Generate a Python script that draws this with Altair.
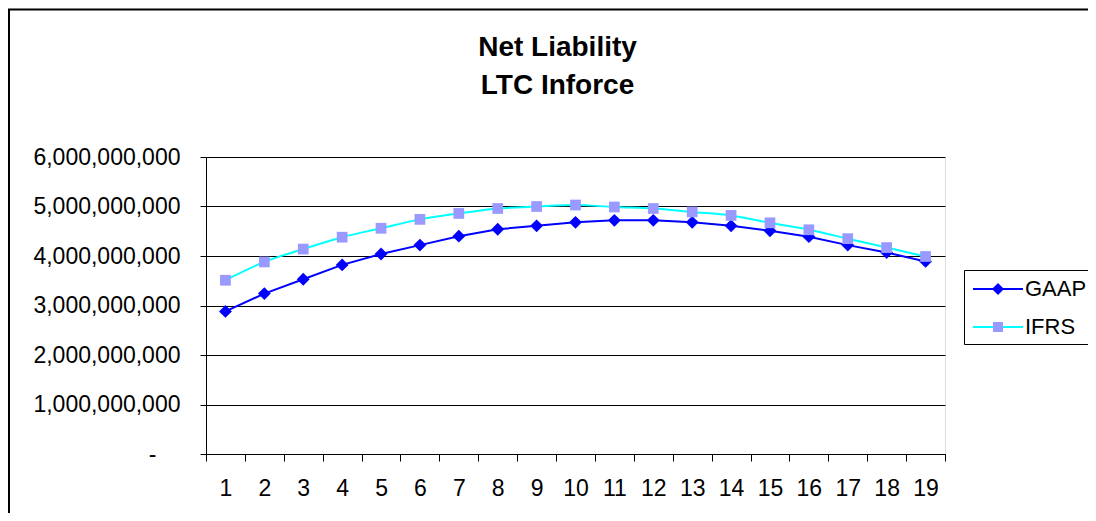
import altair as alt
import pandas as pd

years = list(range(1, 20))
gaap = [2.88e9, 3.24e9, 3.53e9, 3.82e9, 4.04e9, 4.22e9, 4.40e9, 4.54e9, 4.61e9, 4.68e9,
        4.72e9, 4.72e9, 4.68e9, 4.61e9, 4.51e9, 4.39e9, 4.22e9, 4.07e9, 3.89e9]
ifrs = [3.51e9, 3.88e9, 4.14e9, 4.38e9, 4.56e9, 4.74e9, 4.86e9, 4.96e9, 5.00e9, 5.03e9,
        4.99e9, 4.96e9, 4.89e9, 4.82e9, 4.67e9, 4.53e9, 4.35e9, 4.17e9, 3.99e9]
series = ["GAAP", "IFRS"]
marker_keys = ["m_GAAP", "m_IFRS"]
line_colors = ["#0000FF", "#00FFFF"]
marker_colors = ["#0000FF", "#9999FF"]
y_ticks = [0, 1e9, 2e9, 3e9, 4e9, 5e9, 6e9]
title_lines = ["Net Liability", "LTC Inforce"]

FONT = "Liberation Sans"
W, H = 739, 297
PAD_L, PAD_T = 198, 149
TOTAL_W, TOTAL_H = 1080, 505

df = pd.DataFrame({
    "year": years * 2,
    "value": gaap + ifrs,
    "series": ["GAAP"] * len(years) + ["IFRS"] * len(years),
})
df["mkey"] = "m_" + df["series"]

x_enc = alt.X("year:O", scale=alt.Scale(type="band", paddingInner=0, paddingOuter=0),
              axis=alt.Axis(title=None, labelAngle=0, tickBand="extent", grid=False,
                            domainColor="black", tickColor="black", tickSize=7,
                            labelFontSize=23, labelFont=FONT, labelColor="black",
                            labelPadding=16))
y_enc = alt.Y("value:Q", scale=alt.Scale(domain=[0, 6e9], nice=False),
              axis=alt.Axis(title=None, values=y_ticks, grid=True, gridColor="black",
                            gridWidth=1, domainColor="black", tickColor="black", tickSize=6,
                            labelFontSize=23, labelFont=FONT, labelColor="black",
                            labelPadding={"condition": {"test": "datum.value == 0", "value": 44},
                                          "value": 20},
                            labelExpr="datum.value == 0 ? '-' : format(datum.value, ',')"))

base = alt.Chart(df)

gaap_line = base.transform_filter("datum.series == 'GAAP'").mark_line(
    color=line_colors[0], strokeWidth=2).encode(x=x_enc, y=y_enc)
ifrs_line = base.transform_filter("datum.series == 'IFRS'").mark_line(
    color=line_colors[1], strokeWidth=2, interpolate="monotone").encode(x=x_enc, y=y_enc)
gaap_pts = base.transform_filter("datum.series == 'GAAP'").mark_point(
    shape="diamond", filled=True, size=165, color=marker_colors[0], opacity=1).encode(x=x_enc, y=y_enc)
ifrs_pts = base.transform_filter("datum.series == 'IFRS'").mark_point(
    shape="square", filled=True, size=115, color=marker_colors[1], opacity=1).encode(x=x_enc, y=y_enc)

# legend: line part (stroke) and marker part (shape + fill) overlaid at the same spot
LEG_X, LEG_Y = 758, 113
line_path = "M-0.833,0H3.333"
diamond_path = "M1.25,-0.5L1.75,0L1.25,0.5L0.75,0Z"
square_path = "M0.833,-0.417H1.667V0.417H0.833Z"
common_leg = dict(orient="none", legendX=LEG_X, legendY=LEG_Y, title=None,
                  symbolSize=576, symbolStrokeWidth=2, labelFontSize=22, labelFont=FONT,
                  labelOffset=29, padding=6, rowPadding=14)

leg_lines = base.transform_filter("false").mark_point(filled=False, opacity=1).encode(
    stroke=alt.Stroke("series:N", scale=alt.Scale(domain=series, range=line_colors),
                      legend=alt.Legend(symbolType=line_path, strokeColor="black",
                                        labelColor="black", **common_leg)))
leg_marks = base.transform_filter("false").mark_point(filled=True, opacity=1).encode(
    shape=alt.Shape("mkey:N", scale=alt.Scale(domain=marker_keys, range=[diamond_path, square_path]),
                    legend=alt.Legend(symbolStrokeColor="transparent", labelOpacity=0,
                                      labelColor="white", **common_leg)),
    fill=alt.Fill("mkey:N", scale=alt.Scale(domain=marker_keys, range=marker_colors), legend=None))

one = pd.DataFrame({"k": [0]})
frame_left = alt.Chart(one).mark_rule(color="black", strokeWidth=2).encode(
    x=alt.value(-197), y=alt.value(-148), y2=alt.value(TOTAL_H - PAD_T))
frame_top = alt.Chart(one).mark_rule(color="black", strokeWidth=2).encode(
    x=alt.value(-198), x2=alt.value(TOTAL_W - PAD_L), y=alt.value(-147.5))

chart = alt.layer(gaap_line, ifrs_line, gaap_pts, ifrs_pts, leg_lines, leg_marks,
                  frame_left, frame_top).properties(
    width=W, height=H,
    title=alt.TitleParams(text=title_lines, fontSize=28, font=FONT, fontWeight="bold",
                          anchor="middle", lineHeight=38.5, dx=-18, dy=112, offset=20,
                          color="black"),
    autosize=alt.AutoSizeParams(type="none"),
    padding={"left": PAD_L, "top": PAD_T, "right": TOTAL_W - PAD_L - W,
             "bottom": TOTAL_H - PAD_T - H},
).configure_view(stroke="#808080", strokeWidth=1).configure(background="white")

chart.save("out.html", embed_options={"renderer": "svg", "actions": False})
